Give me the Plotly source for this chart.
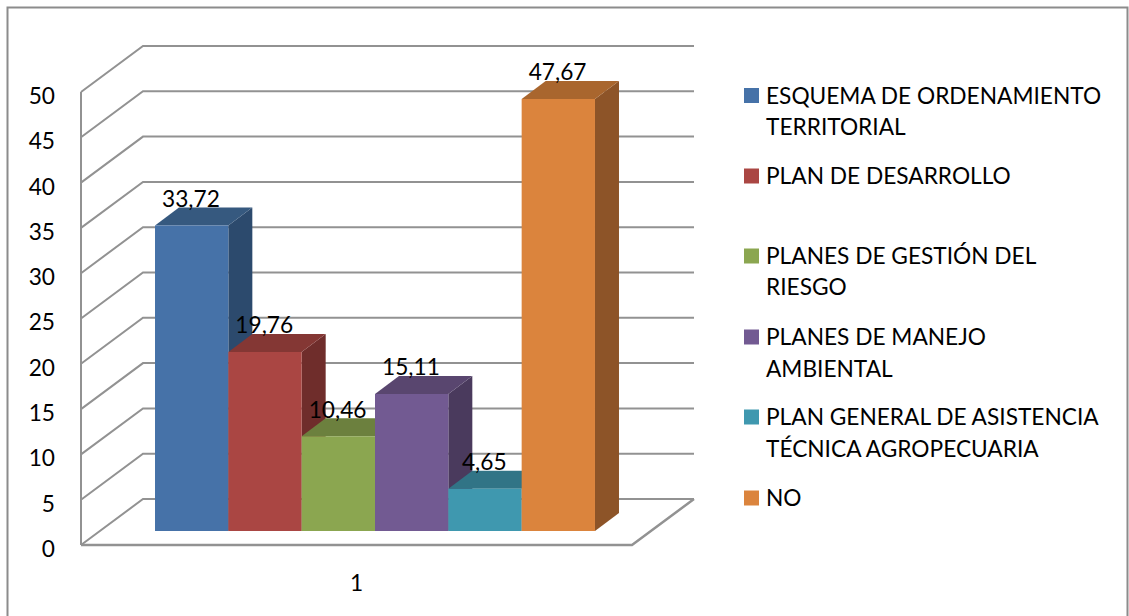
import plotly.graph_objects as go

# ---- data ----
CATEGORY = ["1"]
SERIES = ["ESQUEMA DE ORDENAMIENTO TERRITORIAL", "PLAN DE DESARROLLO",
          "PLANES DE GESTIÓN DEL RIESGO", "PLANES DE MANEJO AMBIENTAL",
          "PLAN GENERAL DE ASISTENCIA TÉCNICA AGROPECUARIA", "NO"]
VALUES = [33.72, 19.76, 10.46, 15.11, 4.65, 47.67]
LEGEND_LINES = [["ESQUEMA DE ORDENAMIENTO", "TERRITORIAL"], ["PLAN DE DESARROLLO"],
                ["PLANES DE GESTIÓN DEL", "RIESGO"], ["PLANES DE MANEJO", "AMBIENTAL"],
                ["PLAN GENERAL DE ASISTENCIA", "TÉCNICA AGROPECUARIA"], ["NO"]]
TICKS = [0, 5, 10, 15, 20, 25, 30, 35, 40, 45, 50]
FRONT = ["#4672A8", "#AA4643", "#8BA650", "#725A92", "#3F98AF", "#DB843D"]
TOP = ["#36597F", "#843734", "#6C803E", "#59466F", "#317486", "#A9662E"]
SIDE = ["#2C4A6D", "#6F2D2B", "#5A6B34", "#4A3A5D", "#296170", "#8D5428"]

# ---- geometry of the 3D projection ----
W, H = 1129, 616
PX_PER_V = 9.06          # px per value unit
PX_PER_X = 73.33         # px per bar slot
Y0_PX = 545              # pixel row of value 0 on the front wall edge
X0_PX = 191.67           # pixel column of centre of first bar
FONT = "Lato"
FS = 22.7


def xu(px):
    return (px - X0_PX) / PX_PER_X


def vu(px):
    return px / PX_PER_V


X_FL, X_FR = xu(81), xu(632)     # floor front left and right
WALL_DX, WALL_DV = 62 / PX_PER_X, vu(46)  # depth of the room
BAR_DX, BAR_DV = 24 / PX_PER_X, vu(18)    # depth of a bar
BASE = vu(Y0_PX - 531)                    # front foot of bars
GRID = "#929292"

fig = go.Figure()
shapes = []


def line(points, width=2):
    path = "M" + " L".join(f"{x:.4f},{y:.4f}" for x, y in points)
    shapes.append(dict(type="path", path=path, xref="x", yref="y", layer="below",
                       line=dict(color=GRID, width=width)))


def face(points, color):
    path = "M" + " L".join(f"{x:.4f},{y:.4f}" for x, y in points) + " Z"
    shapes.append(dict(type="path", path=path, xref="x", yref="y", layer="below",
                       fillcolor=color, line=dict(width=0)))


# room
for t in TICKS:
    line([(X_FL, t), (X_FL + WALL_DX, t + WALL_DV), (X_FR + WALL_DX, t + WALL_DV)])
line([(X_FL, TICKS[0]), (X_FL, TICKS[-1])])
line([(X_FL, 0), (X_FR, 0), (X_FR + WALL_DX, WALL_DV)], 2.5)

# bars: fronts are real bar traces, depth faces come from the same values
for i, (name, v) in enumerate(zip(SERIES, VALUES)):
    l, r, b, t = i - 0.5, i + 0.5, BASE, BASE + v
    face([(r, b), (r + BAR_DX, b + BAR_DV), (r + BAR_DX, t + BAR_DV), (r, t)], SIDE[i])
    face([(l, t), (r, t), (r + BAR_DX, t + BAR_DV), (l + BAR_DX, t + BAR_DV)], TOP[i])
    fig.add_trace(go.Bar(x=[i], y=[v], base=[BASE], width=1, name=name,
                         marker=dict(color=FRONT[i], line=dict(width=0)), showlegend=False))

fig.add_trace(go.Scatter(
    x=[i - 0.01 for i in range(len(VALUES))], y=[v + BASE + BAR_DV - vu(5) for v in VALUES],
    mode="text", text=[f"{v:.2f}".replace(".", ",") for v in VALUES],
    textposition="top center", textfont=dict(family=FONT, size=FS, color="#000000"),
    showlegend=False, hoverinfo="skip"))

# legend
annotations = []
LEG_ROWS = [95.5, 176, 256, 337, 417, 498]
for i, lines in enumerate(LEGEND_LINES):
    yc = LEG_ROWS[i]
    shapes.append(dict(type="rect", xref="paper", yref="paper", x0=744 / W, x1=759 / W,
                       y0=1 - (yc + 7.5) / H, y1=1 - (yc - 7.5) / H,
                       fillcolor=FRONT[i], line=dict(width=0)))
    for j, txt in enumerate(lines):
        annotations.append(dict(xref="paper", yref="paper", x=763.5 / W,
                                y=1 - (yc - 0.5 + j * 31.5) / H,
                                text=txt, showarrow=False, xanchor="left", yanchor="middle",
                                font=dict(family=FONT, size=FS, color="#000000")))

# frame
shapes.append(dict(type="rect", xref="paper", yref="paper", x0=7.5 / W, x1=1127.5 / W,
                   y0=-0.2, y1=1 - 7.5 / H, line=dict(color="#8C8C8C", width=2)))

fig.update_layout(
    width=W, height=H, margin=dict(l=0, r=0, t=0, b=0, pad=0, autoexpand=False),
    paper_bgcolor="white", plot_bgcolor="white", barmode="overlay", showlegend=False,
    shapes=shapes, annotations=annotations, font=dict(family=FONT, size=FS, color="#000000"),
    xaxis=dict(range=[xu(0), xu(W)], showgrid=False, zeroline=False, showline=False,
               tickmode="array", tickvals=[(X_FL + X_FR) / 2], ticktext=CATEGORY,
               ticks="", anchor="free", position=(H - Y0_PX) / H, ticklabelstandoff=22),
    yaxis=dict(range=[vu(Y0_PX - H), vu(Y0_PX)], showgrid=False, zeroline=False, showline=False,
               tickmode="array", tickvals=TICKS, ticktext=[str(t) for t in TICKS],
               ticks="", anchor="free", position=81 / W, ticklabelstandoff=26, ticklabelshift=4),
)

fig.write_html("out.html", config=dict(displayModeBar=False),
               post_script="document.body.style.margin='0';document.documentElement.style.overflow='hidden';")
